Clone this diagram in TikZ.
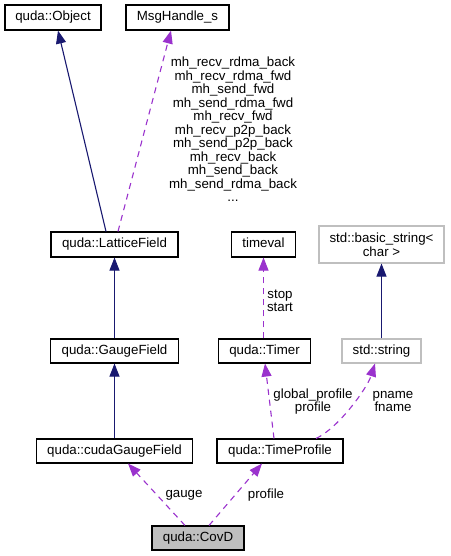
\documentclass[tikz,border=0pt]{standalone}
\usepackage{fontspec}
\setmainfont{Liberation Sans}
\usetikzlibrary{arrows.meta,calc}
\definecolor{navy}{HTML}{191970}
\definecolor{orch}{HTML}{9A32CD}
\definecolor{lgray}{HTML}{BFBFBF}
\tikzset{
  box/.style={draw=black,line width=1.1pt,inner sep=0pt,minimum height=24pt,
    font=\fontsize{13.3}{13.5}\selectfont,text height=9.6pt,text depth=2.8pt},
  gbox/.style={box,draw=lgray},
  inh/.style={draw=navy,line width=1.1pt,-{Triangle[length=13pt,width=10pt,fill=navy]}},
  use/.style={draw=orch,line width=1.1pt,dash pattern=on 6pt off 5pt,
    -{Triangle[length=13pt,width=10pt,fill=orch]}},
  lbl/.style={inner sep=0pt,align=center,font=\fontsize{13.3}{13.5}\selectfont}
}
\begin{document}
\begin{tikzpicture}[x=1pt,y=-1pt]
\useasboundingbox (0,0) rectangle (450,556);
\node[box,minimum width=96pt,minimum height=25pt] (obj) at (53,17.5) {quda::Object};
\node[box,minimum width=103pt,minimum height=25pt] (msg) at (177.5,17.5) {MsgHandle\_s};
\node[box,minimum width=127pt,minimum height=25pt] (lf) at (114.5,244.5) {quda::LatticeField};
\node[box,minimum width=64pt,minimum height=25pt] (tv) at (263.5,244.5) {timeval};
\node[gbox,minimum width=125pt,minimum height=37pt,align=center,text height=,text depth=] (bs) at (381.5,244.5) {std::basic\_string<\\char >};
\node[box,minimum width=128pt] (gf) at (114.5,351) {quda::GaugeField};
\node[box,minimum width=92pt] (tm) at (264.5,351) {quda::Timer};
\node[gbox,minimum width=79pt] (ss) at (381.5,351) {std::string};
\node[box,minimum width=156pt] (cgf) at (114.5,451) {quda::cudaGaugeField};
\node[box,minimum width=126pt] (tp) at (280,451) {quda::TimeProfile};
\node[box,minimum width=92pt,fill=lgray] (cov) at (198,538) {quda::CovD};

\draw[inh] ($(lf.north)+(-8.5,0)$) -- ($(obj.south)+(5,0)$);
\draw[use] ($(lf.north)+(3.5,0)$) -- ($(msg.south)+(-6.5,0)$);
\draw[inh] (gf.north) -- (lf.south);
\draw[inh] (cgf.north) -- (gf.south);
\draw[use] ($(tm.north)+(-1,0)$) -- (tv.south);
\draw[inh] (ss.north) -- (bs.south);
\draw[use] ($(tp.north)+(-6,0)$) -- ($(tm.south)+(0.5,0)$);
\draw[use] ($(tp.north)+(36,0)$) .. controls +(22,-10) and +(-8,25) .. ($(ss.south)+(-6.5,0)$);
\draw[use] ($(cov.north)+(-13,0)$) -- ($(cgf.south)+(13.5,0)$);
\draw[use] ($(cov.north)+(11,0)$) -- ($(tp.south)+(-18,0)$);

\node[lbl] (lmsg) at (233,129.5) {mh\_recv\_rdma\_back\\mh\_recv\_rdma\_fwd\\mh\_send\_fwd\\mh\_send\_rdma\_fwd\\mh\_recv\_fwd\\mh\_recv\_p2p\_back\\mh\_send\_p2p\_back\\mh\_recv\_back\\mh\_send\_back\\mh\_send\_rdma\_back\\...};
\node[lbl] (ltv) at (280,301) {stop\\start};
\node[lbl] (ltm) at (313,401.5) {global\_profile\\profile};
\node[lbl] (lss) at (393,401.5) {pname\\fname};
\node[lbl] (lg) at (184,495) {gauge};
\node[lbl] (lp) at (266,495) {profile};
\end{tikzpicture}
\end{document}
